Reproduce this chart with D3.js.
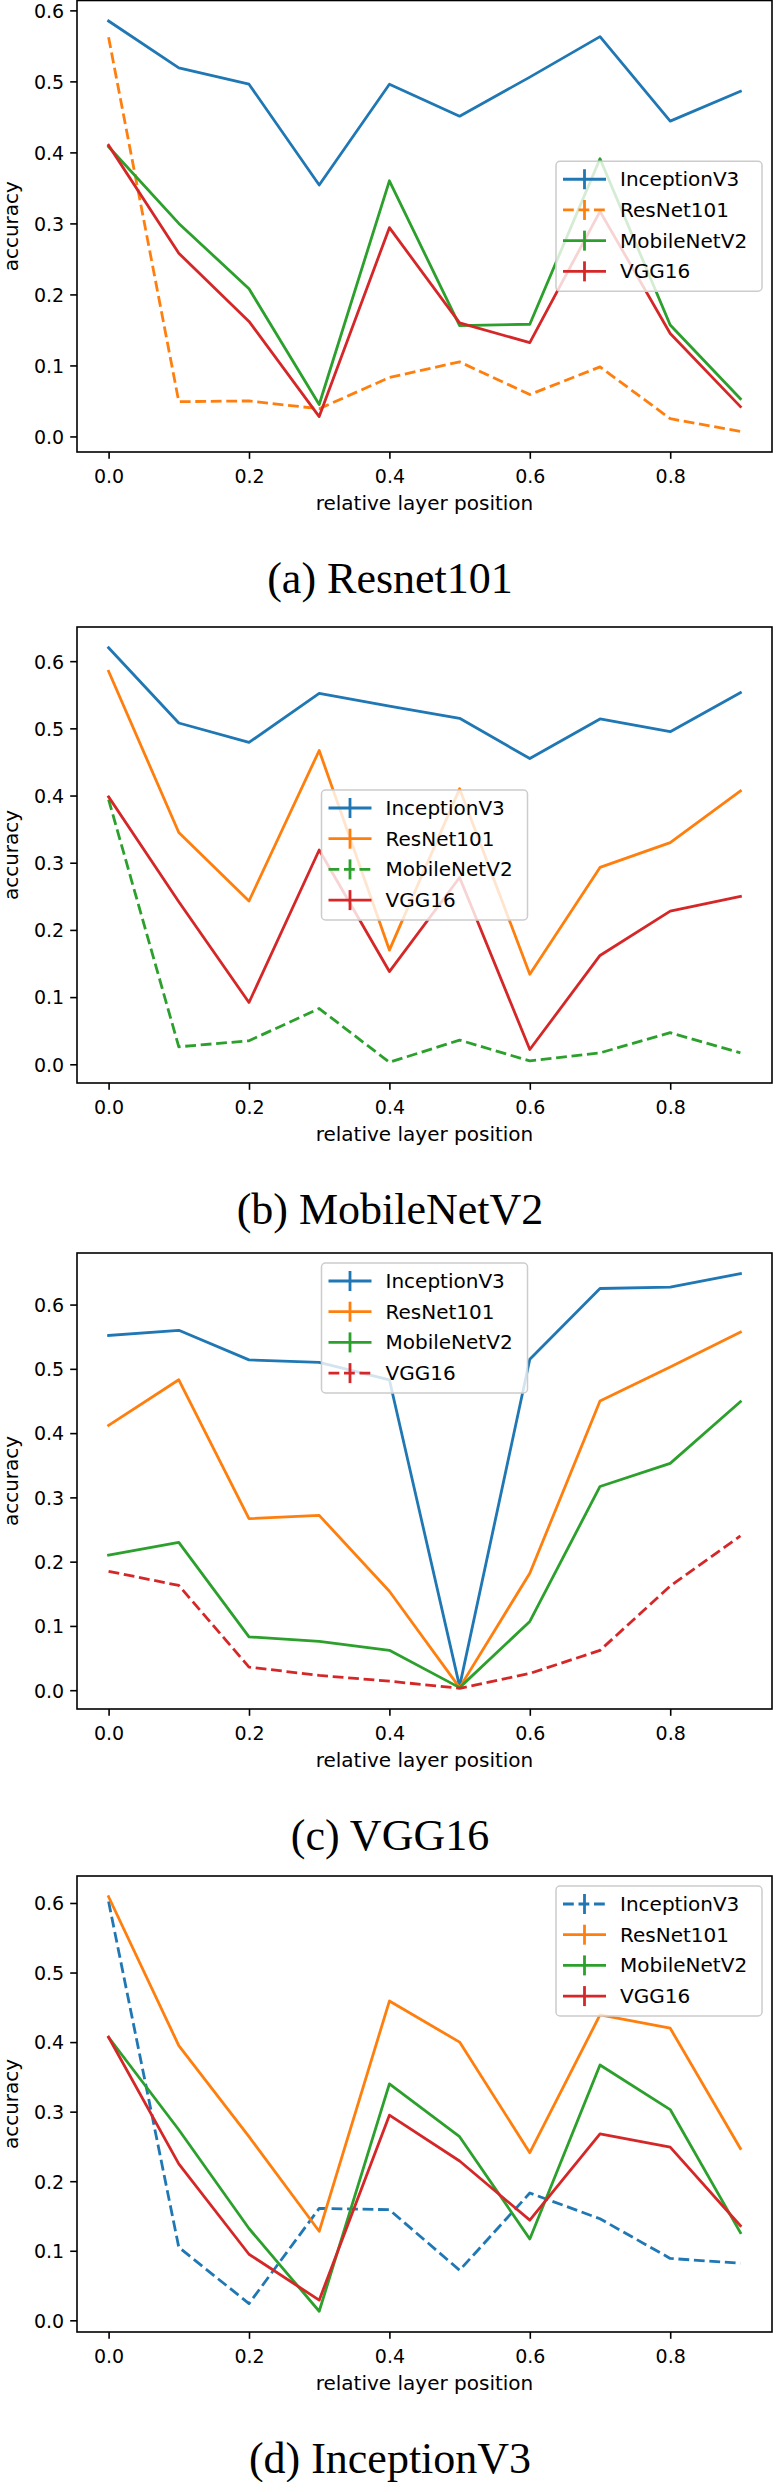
<!DOCTYPE html>
<html>
<head>
<meta charset="utf-8">
<script src="https://cdn.jsdelivr.net/npm/d3@7"></script>
<style>
  html, body { margin: 0; padding: 0; background: #ffffff; }
  svg { display: block; }
</style>
</head>
<body>
<script>
// ---------------- DATA ----------------
const xValues = [0.0, 0.1, 0.2, 0.3, 0.4, 0.5, 0.6, 0.7, 0.8, 0.9];
const seriesNames = ["InceptionV3", "ResNet101", "MobileNetV2", "VGG16"];
const xTickValues = [0.0, 0.2, 0.4, 0.6, 0.8];
const yTickValues = [0.0, 0.1, 0.2, 0.3, 0.4, 0.5, 0.6];
const captions = ["(a) Resnet101", "(b) MobileNetV2", "(c) VGG16", "(d) InceptionV3"];
const xAxisLabel = "relative layer position";
const yAxisLabel = "accuracy";

// (a) Resnet101
const aInception = [0.585, 0.519, 0.496, 0.354, 0.496, 0.451, 0.506, 0.563, 0.444, 0.486];
const aResNet    = [0.562, 0.049, 0.050, 0.039, 0.083, 0.105, 0.059, 0.098, 0.025, 0.007];
const aMobile    = [0.408, 0.300, 0.208, 0.045, 0.360, 0.156, 0.158, 0.391, 0.157, 0.053];
const aVGG       = [0.410, 0.258, 0.162, 0.028, 0.294, 0.160, 0.132, 0.317, 0.145, 0.042];

// (b) MobileNetV2
const bInception = [0.620, 0.508, 0.479, 0.552, 0.533, 0.515, 0.455, 0.514, 0.495, 0.553];
const bResNet    = [0.585, 0.345, 0.243, 0.467, 0.170, 0.410, 0.134, 0.293, 0.330, 0.407];
const bMobile    = [0.394, 0.026, 0.035, 0.083, 0.003, 0.036, 0.005, 0.017, 0.047, 0.017];
const bVGG       = [0.398, 0.242, 0.092, 0.319, 0.138, 0.278, 0.022, 0.162, 0.228, 0.250];

// (c) VGG16
const cInception = [0.552, 0.560, 0.514, 0.510, 0.483, 0.006, 0.515, 0.625, 0.627, 0.648];
const cResNet    = [0.412, 0.483, 0.267, 0.272, 0.154, 0.004, 0.182, 0.450, 0.503, 0.557];
const cMobile    = [0.210, 0.230, 0.083, 0.076, 0.062, 0.004, 0.107, 0.317, 0.353, 0.449];
const cVGG       = [0.185, 0.163, 0.036, 0.023, 0.014, 0.003, 0.026, 0.062, 0.162, 0.240];

// (d) InceptionV3
const dInception = [0.602, 0.105, 0.024, 0.161, 0.159, 0.072, 0.183, 0.146, 0.089, 0.082];
const dResNet    = [0.609, 0.395, 0.264, 0.128, 0.459, 0.400, 0.241, 0.439, 0.420, 0.247];
const dMobile    = [0.407, 0.274, 0.132, 0.013, 0.340, 0.264, 0.117, 0.367, 0.303, 0.126];
const dVGG       = [0.407, 0.225, 0.095, 0.029, 0.295, 0.229, 0.144, 0.268, 0.249, 0.136];

// which series is the attacked (dashed) model in each panel
const dashedIndex = [1, 2, 3, 0];

// ---------------- STYLE / LAYOUT ----------------
const colors = ["#1f77b4", "#ff7f0e", "#2ca02c", "#d62728"];
const W = 777, H = 2482;
const frameLeft = 77, frameRight = 772;
const frameTops = [0.5, 627, 1253, 1876];
const frameBottoms = [452, 1083, 1709, 2332];
const legendLoc = ["center right", "center", "upper center", "upper right"];
const legendW = 206, legendH = 130;
const tickFont = 19, labelFont = 20, legendFont = 20;
const lineW = 2.8;
const dash = "10.8,4.7";

const panels = [
  [aInception, aResNet, aMobile, aVGG],
  [bInception, bResNet, bMobile, bVGG],
  [cInception, cResNet, cMobile, cVGG],
  [dInception, dResNet, dMobile, dVGG]
];

const svg = d3.select("body").append("svg")
  .attr("width", W).attr("height", H)
  .attr("viewBox", `0 0 ${W} ${H}`);

const sans = "'DejaVu Sans', sans-serif";

panels.forEach((series, p) => {
  const top = frameTops[p], bottom = frameBottoms[p];
  const g = svg.append("g");

  // matplotlib-like 5% margins
  const xExt = d3.extent(xValues);
  const xr = xExt[1] - xExt[0];
  const x = d3.scaleLinear()
    .domain([xExt[0] - 0.05 * xr, xExt[1] + 0.05 * xr])
    .range([frameLeft, frameRight]);
  const allY = series.flat();
  const yExt = d3.extent(allY);
  const yr = yExt[1] - yExt[0];
  const y = d3.scaleLinear()
    .domain([yExt[0] - 0.05 * yr, yExt[1] + 0.05 * yr])
    .range([bottom, top]);

  // lines
  const line = d3.line()
    .x((d, j) => x(xValues[j]))
    .y(d => y(d));
  series.forEach((vals, s) => {
    g.append("path")
      .datum(vals)
      .attr("d", line)
      .attr("fill", "none")
      .attr("stroke", colors[s])
      .attr("stroke-width", lineW)
      .attr("stroke-linejoin", "round")
      .attr("stroke-linecap", s === dashedIndex[p] ? "butt" : "square")
      .attr("stroke-dasharray", s === dashedIndex[p] ? dash : null);
  });

  // axes
  const yAxis = d3.axisLeft(y)
    .tickValues(yTickValues)
    .tickFormat(d3.format(".1f"))
    .tickSize(6.8).tickPadding(6);
  const yg = g.append("g").attr("transform", `translate(${frameLeft},0)`).call(yAxis);
  const xAxis = d3.axisBottom(x)
    .tickValues(xTickValues)
    .tickFormat(d3.format(".1f"))
    .tickSize(6.8).tickPadding(6);
  const xg = g.append("g").attr("transform", `translate(0,${bottom})`).call(xAxis);
  [yg, xg].forEach(ax => {
    ax.select(".domain").remove();
    ax.selectAll(".tick line").attr("stroke", "#000").attr("stroke-width", 1.6);
    ax.selectAll(".tick text")
      .attr("fill", "#000")
      .style("font-family", sans)
      .style("font-size", tickFont + "px");
  });
  xg.selectAll(".tick text").attr("dy", null).attr("y", 31).attr("dominant-baseline", "alphabetic");
  yg.selectAll(".tick text").attr("dy", "0.36em");

  // frame
  g.append("rect")
    .attr("x", frameLeft).attr("y", top)
    .attr("width", frameRight - frameLeft).attr("height", bottom - top)
    .attr("fill", "none").attr("stroke", "#000").attr("stroke-width", 1.6);

  // axis labels
  const midX = (frameLeft + frameRight) / 2;
  g.append("text")
    .attr("x", midX).attr("y", bottom + 58)
    .attr("text-anchor", "middle")
    .style("font-family", sans).style("font-size", labelFont + "px")
    .attr("fill", "#000")
    .text(xAxisLabel);
  g.append("text")
    .attr("transform", `translate(18,${(top + bottom) / 2}) rotate(-90)`)
    .attr("text-anchor", "middle")
    .style("font-family", sans).style("font-size", labelFont + "px")
    .attr("fill", "#000")
    .text(yAxisLabel);

  // caption
  svg.append("text")
    .attr("x", 390).attr("y", bottom + 141)
    .attr("text-anchor", "middle")
    .style("font-family", "'Liberation Serif', 'Times New Roman', serif")
    .style("font-size", "44px")
    .attr("fill", "#000")
    .text(captions[p]);

  // legend
  const pad = 10;
  let lx, ly;
  const loc = legendLoc[p];
  if (loc === "center right") { lx = frameRight - pad - legendW; ly = (top + bottom) / 2 - legendH / 2; }
  else if (loc === "center") { lx = midX - legendW / 2; ly = (top + bottom) / 2 - legendH / 2; }
  else if (loc === "upper center") { lx = midX - legendW / 2; ly = top + pad; }
  else { lx = frameRight - pad - legendW; ly = top + pad; }
  const lg = svg.append("g").attr("transform", `translate(${lx},${ly})`);
  lg.append("rect")
    .attr("x", 0).attr("y", 0).attr("width", legendW).attr("height", legendH)
    .attr("rx", 4).attr("ry", 4)
    .attr("fill", "#ffffff").attr("fill-opacity", 0.8)
    .attr("stroke", "#cccccc").attr("stroke-width", 1.5);
  seriesNames.forEach((name, s) => {
    const cy = 18 + s * 30.7;
    const isDash = s === dashedIndex[p];
    lg.append("line")
      .attr("x1", 7).attr("x2", 50).attr("y1", cy).attr("y2", cy)
      .attr("stroke", colors[s]).attr("stroke-width", lineW)
      .attr("stroke-dasharray", isDash ? "10.8,4.7" : null);
    lg.append("line")
      .attr("x1", 28.5).attr("x2", 28.5).attr("y1", cy - 10).attr("y2", cy + 10)
      .attr("stroke", colors[s]).attr("stroke-width", lineW);
    lg.append("text")
      .attr("x", 64).attr("y", cy + 7)
      .style("font-family", sans).style("font-size", legendFont + "px")
      .attr("fill", "#000")
      .text(name);
  });
});
</script>
</body>
</html>
